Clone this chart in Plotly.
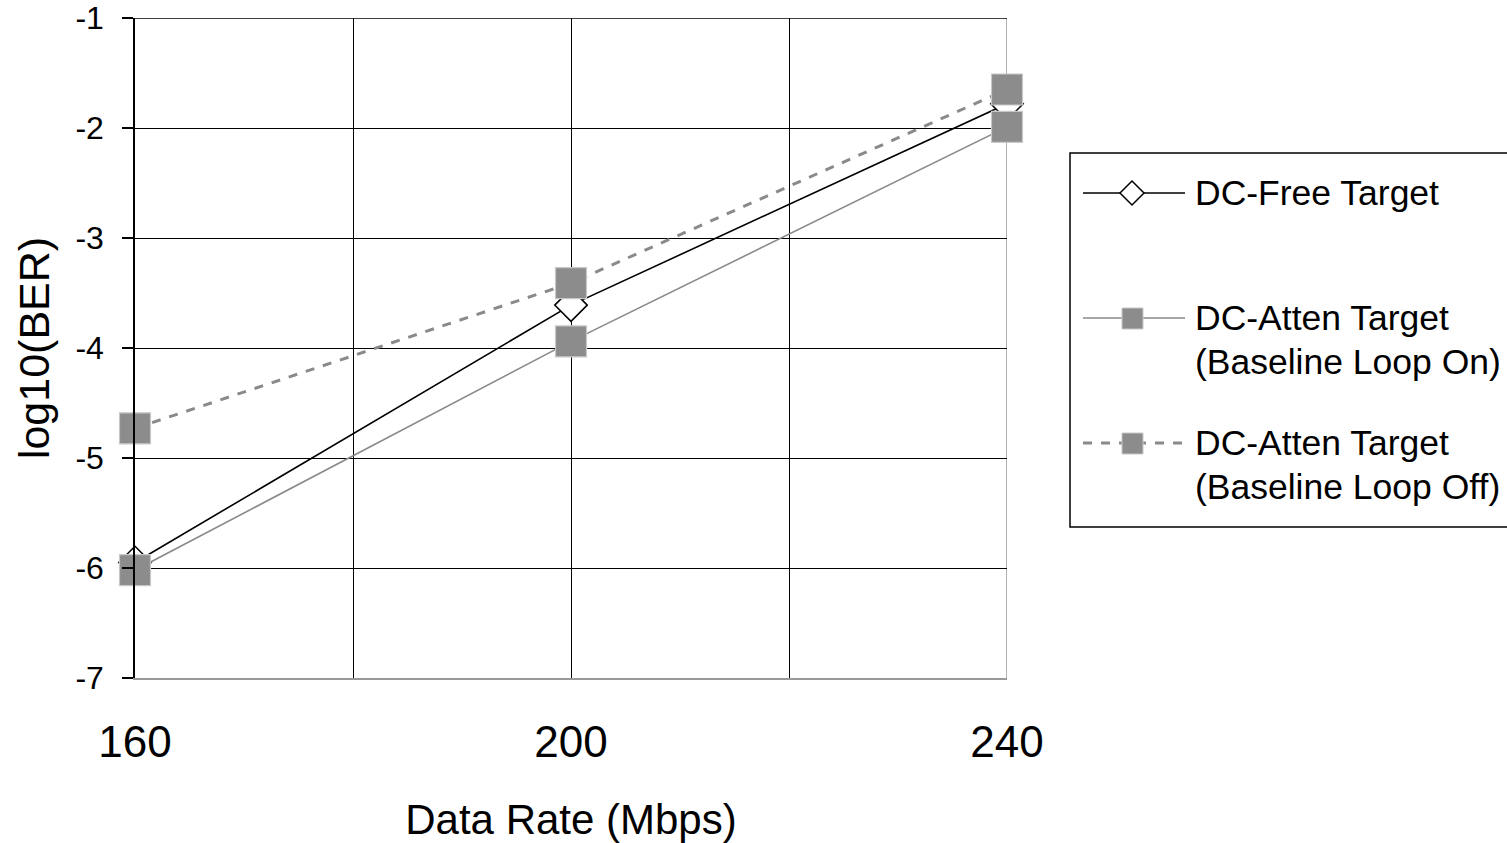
import plotly.graph_objects as go

rates = [160, 200, 240]
dc_free = [-5.95, -3.61, -1.78]
dc_atten_on = [-6.02, -3.94, -1.99]
dc_atten_off = [-4.73, -3.41, -1.65]

x_tickvals = [160, 180, 200, 220, 240]
x_ticktext = ["160", "", "200", "", "240"]
y_tickvals = [-7, -6, -5, -4, -3, -2, -1]
y_ticktext = ["-7", "-6", "-5", "-4", "-3", "-2", "-1"]

series_names = ["DC-Free Target", "DC-Atten Target<br>(Baseline Loop On)",
                "DC-Atten Target<br>(Baseline Loop Off)"]

FONT = "Liberation Sans, Arial, sans-serif"
W, H = 1507, 843
OFF = 0  # body margin removed via post_script
# target page-pixel positions of the plot area
PL, PR, PT, PB = 135, 1007, 18, 678
L, T = PL - OFF, PT - OFF
R, B = W - (PR - OFF), H - (PB - OFF)
PW, PH = PR - PL, PB - PT

def px2x(px):
    return (px - PL) / PW

def px2y(py):
    return (PB - py) / PH

GRAY_LINE = "#8a8a8a"
GRAY_FILL = "#8c8c8c"
GRAY_EDGE = "#c8c8c8"

fig = go.Figure()
fig.add_trace(go.Scatter(
    x=rates, y=dc_free, mode="lines+markers", name=series_names[0],
    cliponaxis=False, showlegend=False,
    line=dict(color="black", width=1.6),
    marker=dict(symbol="diamond", size=25, color="white", line=dict(color="black", width=1.5)),
))
fig.add_trace(go.Scatter(
    x=rates, y=dc_atten_on, mode="lines+markers", name=series_names[1],
    cliponaxis=False, showlegend=False,
    line=dict(color=GRAY_LINE, width=1.6),
    marker=dict(symbol="square", size=31, color=GRAY_FILL, line=dict(color=GRAY_EDGE, width=1.2)),
))
fig.add_trace(go.Scatter(
    x=rates, y=dc_atten_off, mode="lines+markers", name=series_names[2],
    cliponaxis=False, showlegend=False,
    line=dict(color=GRAY_LINE, width=3, dash="dash"),
    marker=dict(symbol="square", size=31, color=GRAY_FILL, line=dict(color=GRAY_EDGE, width=1.2)),
))

shapes = []
annotations = []

# right border of plot (gray) at 240, top border (black) at -1
shapes.append(dict(type="line", xref="x", yref="paper", x0=240, x1=240, y0=0, y1=1,
                   line=dict(color="#999999", width=1.5), layer="below"))
shapes.append(dict(type="line", xref="paper", yref="y", x0=0, x1=1, y0=-1, y1=-1,
                   line=dict(color="black", width=1.5), layer="below"))

# manual legend box
shapes.append(dict(type="rect", xref="paper", yref="paper",
                   x0=px2x(1070), x1=px2x(1530), y0=px2y(527), y1=px2y(153),
                   line=dict(color="black", width=1.5), fillcolor="white", layer="above"))

legend_rows = [193, 318, 443]
line_styles = [dict(color="black", width=1.6),
               dict(color=GRAY_LINE, width=1.6),
               dict(color=GRAY_LINE, width=3, dash="dash")]
for i, yy in enumerate(legend_rows):
    shapes.append(dict(type="line", xref="paper", yref="paper",
                       x0=px2x(1083), x1=px2x(1185), y0=px2y(yy), y1=px2y(yy),
                       line=line_styles[i], layer="above"))
    if i == 0:
        cx, cy, hw = 1132, yy, 12
        path = (f"M {px2x(cx - hw)},{px2y(cy)} L {px2x(cx)},{px2y(cy - hw)} "
                f"L {px2x(cx + hw)},{px2y(cy)} L {px2x(cx)},{px2y(cy + hw)} Z")
        shapes.append(dict(type="path", xref="paper", yref="paper", path=path,
                           line=dict(color="black", width=1.5), fillcolor="white", layer="above"))
    else:
        shapes.append(dict(type="rect", xref="paper", yref="paper",
                           x0=px2x(1122), x1=px2x(1143), y0=px2y(yy + 11), y1=px2y(yy - 10),
                           line=dict(color=GRAY_EDGE, width=1), fillcolor=GRAY_FILL, layer="above"))
    lines = series_names[i].split("<br>")
    for j, txt in enumerate(lines):
        annotations.append(dict(xref="paper", yref="paper", x=px2x(1193), y=px2y(yy + 44 * j),
                                xanchor="left", yanchor="middle", showarrow=False,
                                text=txt, font=dict(size=35.5, family=FONT, color="black")))

fig.update_layout(
    width=W, height=H,
    margin=dict(l=L, r=R, t=T, b=B),
    paper_bgcolor="white", plot_bgcolor="white",
    font=dict(family=FONT, color="black"),
    showlegend=False,
    shapes=shapes, annotations=annotations,
    xaxis=dict(
        range=[160, 240], tickvals=x_tickvals, ticktext=x_ticktext,
        showgrid=True, gridcolor="black", gridwidth=1.2,
        showline=True, linecolor="#999999", linewidth=1.5,
        ticks="", tickfont=dict(size=44), ticklabelstandoff=24,
        ticklabeloverflow="allow",
        title=dict(text="Data Rate (Mbps)", font=dict(size=42), standoff=40),
        zeroline=False, fixedrange=True, automargin=False,
    ),
    yaxis=dict(
        range=[-7, -1], tickvals=y_tickvals, ticktext=y_ticktext,
        showgrid=True, gridcolor="black", gridwidth=1.2,
        showline=True, linecolor="black", linewidth=1.5,
        ticks="outside", ticklen=11, tickcolor="black", tickwidth=1.5,
        tickfont=dict(size=32), ticklabelstandoff=12,
        ticklabeloverflow="allow",
        title=dict(text="log10(BER)", font=dict(size=43), standoff=12),
        zeroline=False, fixedrange=True, automargin=False,
    ),
)

fig.write_html("out.html",
               config={"displayModeBar": False},
               post_script="document.body.style.margin='0';document.body.style.overflow='hidden';")
